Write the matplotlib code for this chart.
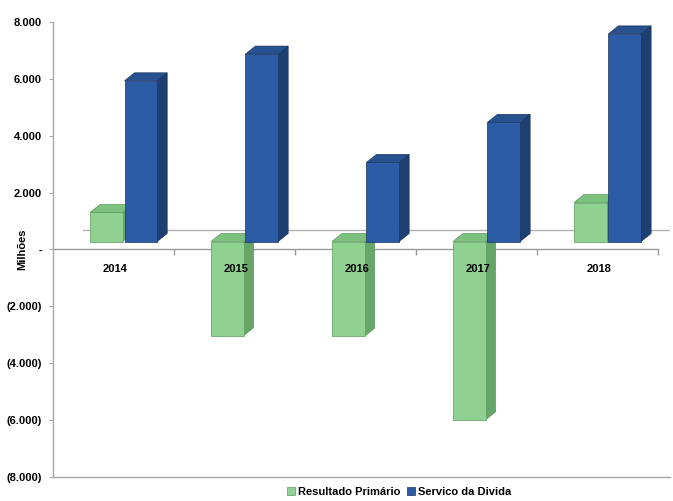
import matplotlib
matplotlib.use("Agg")
import matplotlib.pyplot as plt
from matplotlib.patches import Polygon, Patch
from matplotlib.transforms import ScaledTranslation

# Data (R$ milhões)
years = ["2014", "2015", "2016", "2017", "2018"]
resultado_primario = [1020, -3310, -3330, -6270, 1370]
servico_divida = [5650, 6590, 2780, 4190, 7300]
y_ticks = [8000, 6000, 4000, 2000, 0, -2000, -4000, -6000, -8000]
series_names = ["Resultado Primário", "Servico da Divida"]


def fmt_milhoes(v):
    if v == 0:
        return "-"
    s = f"{abs(v):,.0f}".replace(",", ".")
    return f"({s})" if v < 0 else s


plt.rcParams["font.family"] = ["Liberation Sans", "DejaVu Sans"]
plt.rcParams["font.weight"] = "bold"

W, H = 673, 501
fig = plt.figure(figsize=(W / 100, H / 100), dpi=100)
ax = fig.add_axes([53 / W, (H - 477) / H, (670 - 53) / W, (477 - 22) / H])
ax.set_xlim(-0.5, 4.6)
ax.set_ylim(-8000, 8000)

for side in ("top", "right"):
    ax.spines[side].set_visible(False)
for side in ("left", "bottom"):
    ax.spines[side].set_color("#a8a8a8")
    ax.spines[side].set_linewidth(1.0)

ax.set_xticks([])
ax.set_yticks(y_ticks)
ax.set_yticklabels([fmt_milhoes(v) for v in y_ticks])
ax.tick_params(axis="y", length=3, width=0.8, color="#a8a8a8", pad=5,
               labelsize=8)
for lbl in ax.get_yticklabels():
    lbl.set_fontweight("bold")

fig.text(22 / W, (H - 249) / H, "Milhões", rotation=90, ha="center",
         va="center", fontsize=8, fontweight="bold")

# 3D projection offsets (display units)
dpi_tr = fig.dpi_scale_trans
front_tr = ax.transData + ScaledTranslation(8 / 100, 8 / 100, dpi_tr)
floor_tr = ax.transData + ScaledTranslation(30 / 100, 20 / 100, dpi_tr)

inv = ax.transData.inverted()
p0 = inv.transform((0, 0))
p1 = inv.transform((10, 8))
ddx, ddy = p1 - p0

# zero line on the floor front, with category tick marks, and the back floor edge
bounds = [i - 0.5 for i in range(len(years) + 1)]
ax.plot([-0.5, 4.5], [0, 0], color="#9a9a9a", lw=1.0, zorder=1)
ax.plot(bounds[1:], [0] * (len(bounds) - 1), ls="none", marker=3,
        markersize=4, color="#9a9a9a", zorder=1)
ax.plot([-0.5, 4.6], [0, 0], color="#b0b0b0", lw=1.0, zorder=1,
        transform=floor_tr)


def bar3d(x_left, width, value, face, top, side, edge, z):
    lo, hi = min(0, value), max(0, value)
    x0, x1 = x_left, x_left + width
    side_poly = Polygon([(x1, lo), (x1 + ddx, lo + ddy),
                         (x1 + ddx, hi + ddy), (x1, hi)],
                        closed=True, facecolor=side, edgecolor=edge,
                        lw=0.5, zorder=z, transform=front_tr)
    top_poly = Polygon([(x0, hi), (x1, hi), (x1 + ddx, hi + ddy),
                        (x0 + ddx, hi + ddy)],
                       closed=True, facecolor=top, edgecolor=edge,
                       lw=0.5, zorder=z, transform=front_tr)
    ax.add_patch(side_poly)
    ax.add_patch(top_poly)
    ax.bar(x_left, value, width, align="edge", color=face, edgecolor=edge,
           linewidth=0.5, zorder=z + 0.1, transform=front_tr)


GREEN = ("#8fd191", "#7cc17e", "#66a669", "#5b9a5d")
BLUE = ("#2c5ca6", "#28528f", "#1e3f72", "#1a3561")
bar_w = 0.27

for i in range(len(years)):
    bar3d(i - 0.26, bar_w, resultado_primario[i], *GREEN, z=2 + i * 0.5)
    bar3d(i + 0.025, bar_w, servico_divida[i], *BLUE, z=2.2 + i * 0.5)

for i, yr in enumerate(years):
    ax.annotate(yr, (i, 0), xytext=(1.2, -13.7), textcoords="offset points",
                ha="center", va="center", fontsize=8, fontweight="bold",
                zorder=20)

handles = [Patch(facecolor=GREEN[0], edgecolor=GREEN[3], lw=0.5),
           Patch(facecolor=BLUE[0], edgecolor=BLUE[3], lw=0.5)]
leg = fig.legend(handles, series_names, loc="center",
                 bbox_to_anchor=(399 / W, (H - 492) / H), ncol=2,
                 frameon=False, fontsize=8, handlelength=0.7,
                 handleheight=0.7, columnspacing=0.6, handletextpad=0.3)
for t in leg.get_texts():
    t.set_fontweight("bold")

fig.savefig("out.png", dpi=100, facecolor="white")
